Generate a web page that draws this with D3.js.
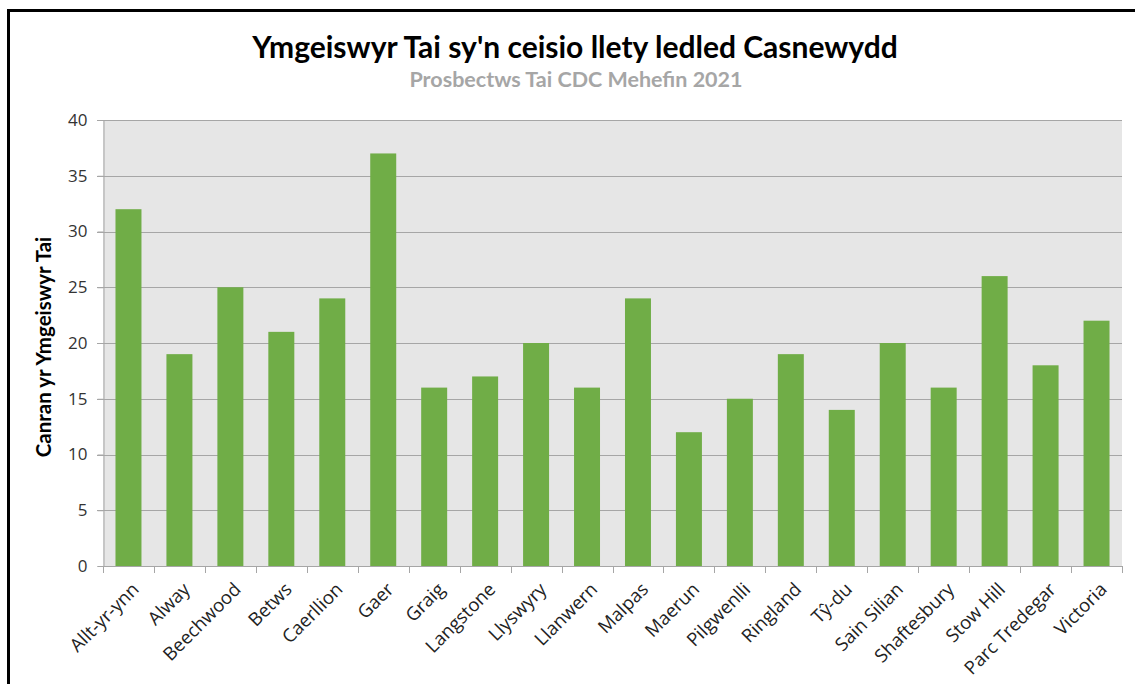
<!DOCTYPE html>
<html><head><meta charset="utf-8">
<script src="https://cdn.jsdelivr.net/npm/d3@7"></script>
<style>body{margin:0;background:#fff}svg{display:block}</style>
</head><body>
<script>
const categories = ["Allt-yr-ynn","Alway","Beechwood","Betws","Caerllion","Gaer","Graig","Langstone","Llyswyry","Llanwern","Malpas","Maerun","Pilgwenlli","Ringland","Tŷ-du","Sain Silian","Shaftesbury","Stow Hill","Parc Tredegar","Victoria"];
const values = [32,19,25,21,24,37,16,17,20,16,24,12,15,19,14,20,16,26,18,22];
const yTicks = [0,5,10,15,20,25,30,35,40];
const title = "Ymgeiswyr Tai sy'n ceisio llety ledled Casnewydd";
const subtitle = "Prosbectws Tai CDC Mehefin 2021";
const yTitle = "Canran yr Ymgeiswyr Tai";

const W = 1135, H = 684;
const svg = d3.select("body").append("svg").attr("width", W).attr("height", H);
svg.append("rect").attr("width", W).attr("height", H).attr("fill", "#fff");
// frame (only top and left visible)
svg.append("rect").attr("x", 8.5).attr("y", 10.5).attr("width", W + 20).attr("height", H + 20)
  .attr("fill", "none").attr("stroke", "#000").attr("stroke-width", 3);

const m = {left: 103, right: 1122, top: 120, bottom: 566};
const x = d3.scaleBand().domain(categories).range([m.left, m.right]).paddingInner(0.49).paddingOuter(0.245);
const y = d3.scaleLinear().domain([0, 40]).range([m.bottom, m.top]);

svg.append("rect").attr("x", m.left).attr("y", m.top).attr("width", m.right - m.left).attr("height", m.bottom - m.top).attr("fill", "#e6e6e6");

// gridlines
svg.append("g").selectAll("line").data(yTicks.filter(d => d > 0)).join("line")
  .attr("x1", m.left - 6).attr("x2", m.right)
  .attr("y1", d => Math.round(y(d)) + 0.5).attr("y2", d => Math.round(y(d)) + 0.5)
  .attr("stroke", "#a6a6a6").attr("stroke-width", 1);

// bars
svg.append("g").selectAll("rect").data(values).join("rect")
  .attr("x", (d, i) => x(categories[i]))
  .attr("width", x.bandwidth())
  .attr("y", d => y(d))
  .attr("height", d => y(0) - y(d))
  .attr("fill", "#70ad47");

// y axis
const yAxis = svg.append("g").attr("transform", `translate(${m.left + 0.5},0)`)
  .call(d3.axisLeft(y).tickValues(yTicks).tickSize(6).tickPadding(10));
yAxis.select(".domain").attr("stroke", "#a6a6a6");
yAxis.selectAll(".tick line").attr("stroke", "#a6a6a6");
yAxis.selectAll("text").attr("font-family", "'Open Sans', sans-serif").attr("font-size", 17).attr("fill", "#333");

// x axis
const bounds = d3.range(categories.length + 1).map(i => m.left + i * (m.right - m.left) / categories.length);
svg.append("line").attr("x1", m.left).attr("x2", m.right).attr("y1", m.bottom + 0.5).attr("y2", m.bottom + 0.5).attr("stroke", "#a6a6a6");
svg.append("g").selectAll("line").data(bounds).join("line")
  .attr("x1", d => Math.round(d) + 0.5).attr("x2", d => Math.round(d) + 0.5)
  .attr("y1", m.bottom).attr("y2", m.bottom + 7).attr("stroke", "#a6a6a6");
svg.append("g").selectAll("text").data(categories).join("text")
  .attr("transform", d => `translate(${x(d) + x.bandwidth() / 2 + 7},${m.bottom + 20}) rotate(-45)`)
  .attr("text-anchor", "end")
  .attr("font-family", "'Open Sans', sans-serif").attr("font-size", 18.5).attr("fill", "#222")
  .attr("dy", "0.35em")
  .text(d => d);

// titles
svg.append("text").attr("x", 575).attr("y", 58).attr("text-anchor", "middle")
  .attr("font-family", "Lato, sans-serif").attr("font-weight", "bold").attr("font-size", 30).attr("fill", "#000").text(title);
svg.append("text").attr("x", 576).attr("y", 87).attr("text-anchor", "middle")
  .attr("font-family", "Lato, sans-serif").attr("font-weight", "bold").attr("font-size", 21.5).attr("fill", "#a6a6a6").text(subtitle);
svg.append("text").attr("transform", `translate(51,347) rotate(-90)`).attr("text-anchor", "middle")
  .attr("font-family", "Lato, sans-serif").attr("font-weight", "bold").attr("font-size", 20.5).attr("fill", "#000").text(yTitle);
</script>
</body></html>
